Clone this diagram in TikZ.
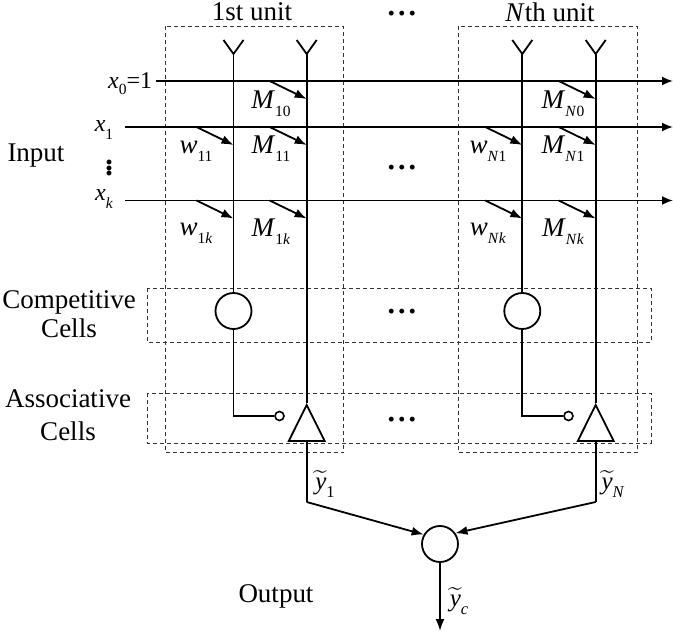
\documentclass[tikz,border=0pt]{standalone}
\usepackage{fontspec}
\usepackage{amsmath}
\setmainfont{Liberation Serif}
\usetikzlibrary{arrows.meta,shapes.geometric}
\newcommand{\mysub}[2]{\textit{#1}\raisebox{-0.3em}{\fontsize{15.5}{15.5}\selectfont #2}}
\newcommand{\mytil}[1]{$\widetilde{\text{\textit{y}}}$\raisebox{-0.3em}{\fontsize{16.5}{16.5}\selectfont #1}}
\newcommand{\hdotsbold}{\textbf{\textperiodcentered\kern0.5pt\textperiodcentered\kern0.5pt\textperiodcentered}}
\tikzset{
  txt/.style={inner sep=0pt,font=\fontsize{27}{28}\selectfont,align=center},
  vars/.style={inner sep=0pt,font=\fontsize{24}{28}\selectfont},
  ylbl/.style={inner sep=0pt,font=\fontsize{25}{28}\selectfont},
  wlbl/.style={inner sep=0pt,font=\fontsize{27}{28}\selectfont},
  bus/.style={line width=1.8pt},
  thinbus/.style={line width=1pt},
  dbox/.style={draw=black!80,dash pattern=on 4pt off 3pt,line width=0.8pt},
  tip/.style={-{Latex[length=11pt,width=9pt]}},
  syn/.style={line width=1.8pt,-{Latex[length=12pt,width=9pt]}},
  cell/.style={draw,circle,line width=1.8pt,minimum size=36pt,inner sep=0pt},
  small/.style={draw,circle,line width=1.6pt,minimum size=9pt,inner sep=0pt},
  amp/.style={draw,isosceles triangle,isosceles triangle apex angle=53,shape border rotate=90,line width=1.8pt,minimum height=36pt,inner sep=0pt,anchor=apex},
  dots/.style={inner sep=0pt,font=\fontsize{30}{30}\selectfont}
}
\begin{document}
\begin{tikzpicture}[x=1pt,y=-1pt]
\useasboundingbox (0,0) rectangle (673,634);
% dashed boxes
\draw[dbox] (165,26) rectangle (343.5,452.5);
\draw[dbox] (458,26) rectangle (637,452.5);
\draw[dbox] (147,288) rectangle (651,342);
\draw[dbox] (147,393) rectangle (651,443);
% titles
\node[txt] (t1) at (252,12) {1st unit};
\node[txt] (tN) at (550,12) {\textit{N}th unit};
\node[dots] (d0) at (402,17) {\hdotsbold};
\node[dots] (d1) at (402,171) {\hdotsbold};
\node[dots] (d2) at (402,315) {\hdotsbold};
\node[dots] (d3) at (402,423) {\hdotsbold};
% left labels
\node[txt] (inp) at (36,156) {Input};
\node[txt] (comp) at (69,314) {Competitive\\[1pt]Cells};
\node[txt] (asso) at (68,415) {Associative\\[5pt]Cells};
\node[txt] (outp) at (276,596) {Output};
\node[vars,anchor=west] (x0) at (108,84) {\textit{x}\raisebox{-0.25em}{\fontsize{15.5}{15.5}\selectfont 0}=1};
\node[vars] (x1) at (104,130) {\mysub{x}{1}};
\node[vars] (xk) at (104,199) {\mysub{x}{\textit{k}}};
\node[inner sep=0pt,font=\bfseries\fontsize{30}{30}\selectfont] (vd) at (109,165) {$\boldsymbol{\vdots}$};
% input rails
\coordinate (a0) at (156,81); \coordinate (b0) at (673,81);
\coordinate (a1) at (125,127); \coordinate (b1) at (673,127);
\coordinate (ak) at (125,200.5); \coordinate (bk) at (673,200.5);
\draw[bus,tip] (a0) -- (b0);
\draw[bus,tip] (a1) -- (b1);
\draw[bus,tip] (ak) -- (bk);
% cells
\node[cell] (c1) at (233.5,311) {};
\node[cell] (cN) at (522.3,311) {};
\node[small] (s1) at (279.5,416) {};
\node[small] (sN) at (568.5,416) {};
\node[amp] (A1) at (306.7,403) {};
\node[amp] (AN) at (595.7,403) {};
\node[cell] (sum) at (440,544) {};
% forks
\foreach \n/\x in {p/233.5,q/306.7,r/522.3,s/595.7}{
  \coordinate (\n) at (\x,54);
  \coordinate (\n L) at (\x-10,40);
  \coordinate (\n R) at (\x+10,40);
  \draw[bus,line join=miter] (\n L) -- (\n) -- (\n R);
}
% verticals
\draw[thinbus] (p) -- (c1.north);
\draw[bus] (q) -- (A1.apex);
\draw[bus] (r) -- (cN.north);
\draw[bus] (s) -- (AN.apex);
% competitive to associative
\draw[bus] (c1.south) |- (s1.west);
\draw[bus] (cN.south) |- (sN.west);
% synapse arrows
\foreach \i/\x/\y in {1/306.7/81,2/595.7/81,3/233.5/127,4/306.7/127,5/522.3/127,6/595.7/127,7/233.5/200.5,8/306.7/200.5,9/522.3/200.5,10/595.7/200.5}{
  \coordinate (u\i) at (\x-37,\y);
  \coordinate (v\i) at (\x,\y+18);
  \draw[syn] (u\i) -- (v\i);
}
% synapse labels
\node[wlbl] (m10) at (271,104) {\mysub{M}{10}};
\node[wlbl] (mN0) at (563,104) {\mysub{M}{\textit{N}0}};
\node[wlbl] (m11) at (271,149) {\mysub{M}{11}};
\node[wlbl] (mN1) at (563,149) {\mysub{M}{\textit{N}1}};
\node[wlbl] (m1k) at (271,232) {\mysub{M}{1\textit{k}}};
\node[wlbl] (mNk) at (563,232) {\mysub{M}{\textit{N}\textit{k}}};
\node[wlbl] (w11) at (196,151) {\mysub{w}{11}};
\node[wlbl] (wN1) at (488,151) {\mysub{w}{\textit{N}1}};
\node[wlbl] (w1k) at (196,233) {\mysub{w}{1\textit{k}}};
\node[wlbl] (wNk) at (488,233) {\mysub{w}{\textit{N}\textit{k}}};
% outputs
\coordinate (e1) at (306.7,502);
\coordinate (eN) at (595.7,502);
\coordinate (eo) at (440,631);
\draw[bus] (A1.south) -- (e1);
\draw[bus] (AN.south) -- (eN);
\draw[syn] (e1) -- (sum.150);
\draw[syn] (eN) -- (sum.35);
\draw[syn] (sum.south) -- (eo);
\node[ylbl] (y1) at (325,484) {\mytil{1}};
\node[ylbl] (yN) at (613,484) {\mytil{\textit{N}}};
\node[ylbl] (yc) at (459,601) {\mytil{\textit{c}}};
\end{tikzpicture}
\end{document}
